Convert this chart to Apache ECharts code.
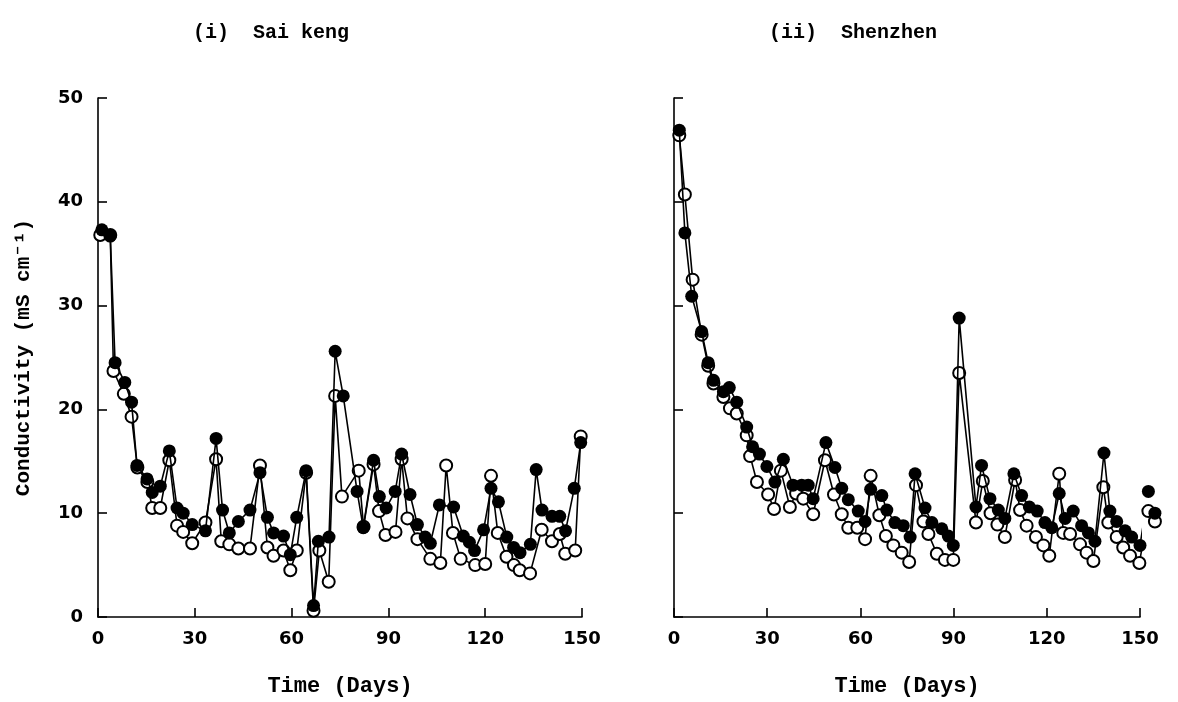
<!DOCTYPE html>
<html>
<head>
<meta charset="utf-8">
<script src="https://cdn.jsdelivr.net/npm/echarts@6/dist/echarts.min.js"></script>
<style>html,body{margin:0;padding:0;background:#fff}#c{width:1178px;height:702px}</style>
</head>
<body>
<div id="c"></div>
<script>
const panelTitles = ['(i)  Sai keng', '(ii)  Shenzhen'];
const xAxisName = 'Time (Days)';
const yAxisName = 'Conductivity (mS cm\u207B\u00B9)';

const saiKengFilledDays = [1.2,3.8,5.3,8.3,10.4,12.1,15.2,16.8,19.3,22.1,24.5,26.4,29.2,33.3,36.6,38.6,40.7,43.5,47.1,50.2,52.5,54.4,57.5,59.6,61.6,64.5,66.8,68.3,71.6,73.5,76.0,80.3,82.2,85.4,87.2,89.3,92.1,94.1,96.7,99.0,101.4,103.0,105.8,110.2,113.2,115.1,116.7,119.5,121.8,124.1,126.7,128.8,130.8,134.0,135.8,137.6,140.7,143.1,144.9,147.6,149.6];
const saiKengFilled = [37.3,36.7,24.5,22.6,20.7,14.6,13.3,12.0,12.6,16.0,10.5,10.0,8.9,8.3,17.2,10.3,8.1,9.2,10.3,13.9,9.6,8.1,7.8,6.0,9.6,14.1,1.1,7.3,7.7,25.6,21.3,12.1,8.6,15.1,11.6,10.5,12.1,15.7,11.8,8.9,7.7,7.1,10.8,10.6,7.8,7.2,6.4,8.4,12.4,11.1,7.7,6.7,6.2,7.0,14.2,10.3,9.7,9.7,8.3,12.4,16.8];
const saiKengOpenDays = [0.7,3.8,4.8,8.0,10.4,12.2,15.3,16.8,19.3,22.1,24.5,26.4,29.2,33.3,36.6,38.2,40.7,43.5,47.1,50.2,52.5,54.4,57.5,59.6,61.6,64.5,66.8,68.6,71.5,73.5,75.6,80.8,82.3,85.4,87.1,89.1,92.2,94.1,95.9,99.0,103.0,106.1,107.9,110.0,112.4,116.9,120.0,121.8,123.9,126.6,128.9,130.7,133.9,137.5,140.7,143.1,144.8,147.9,149.6];
const saiKengOpen = [36.8,36.8,23.7,21.5,19.3,14.4,13.0,10.5,10.5,15.1,8.8,8.2,7.1,9.1,15.2,7.3,7.0,6.6,6.6,14.6,6.7,5.9,6.4,4.5,6.4,13.9,0.6,6.4,3.4,21.3,11.6,14.1,8.7,14.7,10.2,7.9,8.2,15.2,9.5,7.5,5.6,5.2,14.6,8.1,5.6,5.0,5.1,13.6,8.1,5.8,5.0,4.5,4.2,8.4,7.3,8.0,6.1,6.4,17.4];

const shenzhenFilledDays = [1.7,3.5,5.7,8.9,11.0,12.7,15.9,17.8,20.2,23.4,25.3,27.5,29.9,32.5,35.2,38.3,41.1,43.2,44.8,48.9,51.8,54.0,56.1,59.3,61.5,63.3,66.9,68.5,71.1,73.8,76.0,77.6,80.8,83.0,86.2,88.3,89.9,91.8,97.2,99.0,101.7,104.4,106.5,109.4,111.9,114.4,116.9,119.4,121.6,124.0,125.9,128.5,131.2,133.4,135.5,138.4,140.3,142.5,145.2,147.3,150.0,152.7,154.8];
const shenzhenFilled = [46.9,37.0,30.9,27.5,24.5,22.8,21.7,22.1,20.7,18.3,16.4,15.7,14.5,13.0,15.2,12.7,12.7,12.7,11.4,16.8,14.4,12.4,11.3,10.2,9.2,12.3,11.7,10.3,9.1,8.8,7.7,13.8,10.5,9.1,8.5,7.8,6.9,28.8,10.6,14.6,11.4,10.3,9.5,13.8,11.7,10.6,10.2,9.1,8.6,11.9,9.5,10.2,8.8,8.1,7.3,15.8,10.2,9.2,8.3,7.7,6.9,12.1,10.0];
const shenzhenOpenDays = [1.7,3.5,6.0,8.9,11.0,12.7,15.9,18.0,20.2,23.4,24.5,26.7,30.3,32.2,34.4,37.3,39.3,41.6,44.8,48.6,51.5,54.0,56.1,59.0,61.5,63.3,66.1,68.2,70.6,73.3,75.7,77.9,80.3,81.9,84.6,87.2,89.9,91.8,97.2,99.4,101.9,104.1,106.5,109.8,111.4,113.5,116.5,118.9,120.8,124.0,125.3,127.5,130.7,132.8,135.0,138.2,139.8,142.5,144.6,146.8,149.8,152.7,154.8];
const shenzhenOpen = [46.4,40.7,32.5,27.2,24.2,22.5,21.2,20.1,19.6,17.5,15.5,13.0,11.8,10.4,14.1,10.6,11.9,11.4,9.9,15.1,11.8,9.9,8.6,8.6,7.5,13.6,9.8,7.8,6.9,6.2,5.3,12.7,9.2,8.0,6.1,5.5,5.5,23.5,9.1,13.1,10.0,8.9,7.7,13.2,10.3,8.8,7.7,6.9,5.9,13.8,8.1,8.0,7.0,6.2,5.4,12.5,9.1,7.7,6.7,5.9,5.2,10.2,9.2];

const pair = (d, v) => d.map((x, i) => [x, v[i]]);
const monoFont = '"Liberation Mono", "DejaVu Sans Mono", monospace';
const numFont = '"DejaVu Sans", sans-serif';

function xAxisFor(gi) {
  return {
    gridIndex: gi, type: 'value', min: 0, max: 150, interval: 30,
    name: xAxisName, nameLocation: 'middle', nameGap: 58,
    nameTextStyle: { fontFamily: monoFont, fontWeight: 'bold', fontSize: 22, color: '#000' },
    axisLine: { show: true, onZero: false, lineStyle: { color: '#000', width: 1.6 } },
    axisTick: { show: true, inside: true, length: 9, lineStyle: { color: '#000', width: 1.6 } },
    axisLabel: { show: true, margin: 13, fontFamily: numFont, fontWeight: 'bold', fontSize: 18, color: '#000' },
    splitLine: { show: false }
  };
}
function yAxisFor(gi, labels) {
  const a = {
    gridIndex: gi, type: 'value', min: 0, max: 50, interval: 10,
    axisLine: { show: true, onZero: false, lineStyle: { color: '#000', width: 1.6 } },
    axisTick: { show: true, inside: true, length: 9, lineStyle: { color: '#000', width: 1.6 } },
    axisLabel: { show: labels, margin: 15, fontFamily: numFont, fontWeight: 'bold', fontSize: 18, color: '#000' },
    splitLine: { show: false }
  };
  if (labels) {
    a.name = yAxisName; a.nameLocation = 'middle'; a.nameGap = 64;
    a.nameTextStyle = { fontFamily: monoFont, fontWeight: 'bold', fontSize: 21, color: '#000' };
  }
  return a;
}
function lineSeries(name, gi, data, filled) {
  return {
    name, type: 'line', xAxisIndex: gi, yAxisIndex: gi, data, clip: false,
    symbol: 'circle', symbolSize: filled ? 13 : 12, showAllSymbol: true,
    lineStyle: { color: '#000', width: 1.6 },
    itemStyle: filled ? { color: '#000', borderColor: '#000', borderWidth: 0 }
                      : { color: '#fff', borderColor: '#000', borderWidth: 2 },
    emphasis: { disabled: true }, animation: false, z: filled ? 3 : 2
  };
}

const chart = echarts.init(document.getElementById('c'));
chart.setOption({
  backgroundColor: '#fff',
  animation: false,
  title: [
    { text: panelTitles[0], left: 188, top: 18, textStyle: { fontFamily: monoFont, fontWeight: 'bold', fontSize: 20, color: '#000' } },
    { text: panelTitles[1], left: 764, top: 18, textStyle: { fontFamily: monoFont, fontWeight: 'bold', fontSize: 20, color: '#000' } }
  ],
  grid: [
    { left: 98, top: 98, width: 484, height: 528 },
    { left: 674, top: 98, width: 466, height: 528 }
  ],
  xAxis: [xAxisFor(0), xAxisFor(1)],
  yAxis: [yAxisFor(0, true), yAxisFor(1, false)],
  series: [
    lineSeries('Sai keng open', 0, pair(saiKengOpenDays, saiKengOpen), false),
    lineSeries('Sai keng filled', 0, pair(saiKengFilledDays, saiKengFilled), true),
    lineSeries('Shenzhen open', 1, pair(shenzhenOpenDays, shenzhenOpen), false),
    lineSeries('Shenzhen filled', 1, pair(shenzhenFilledDays, shenzhenFilled), true)
  ]
});
</script>
</body>
</html>
